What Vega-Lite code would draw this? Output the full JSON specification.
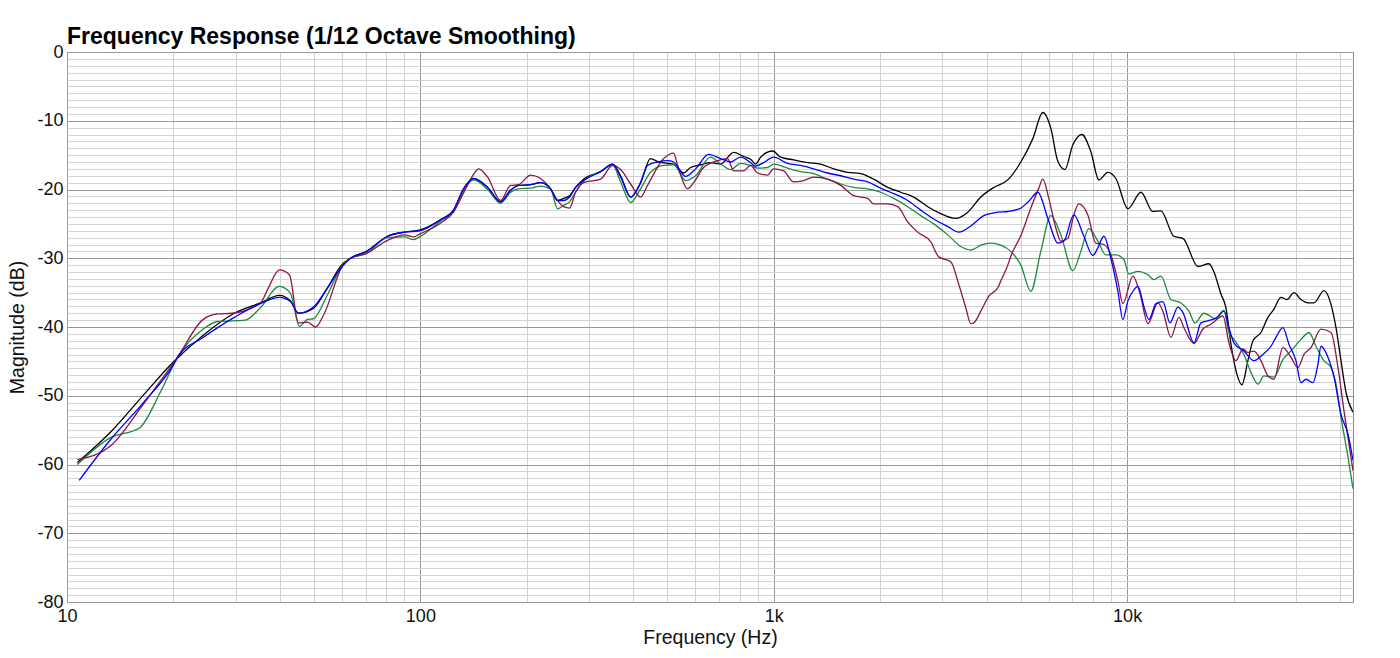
{
  "$schema": "https://vega.github.io/schema/vega-lite/v6.json",
  "autosize": "none",
  "width": 1286,
  "height": 550,
  "padding": {"left": 67, "top": 52, "right": 47, "bottom": 56},
  "background": "#ffffff",
  "title": {"text": "Frequency Response (1/12 Octave Smoothing)", "anchor": "start", "frame": "group", "font": "Liberation Sans", "fontSize": 23, "fontWeight": "bold", "color": "#000000", "offset": -6},
  "config": {
    "view": {"stroke": "#888888", "strokeWidth": 1},
    "font": "Liberation Sans"
  },
  "data": {"values": [
    {"s":"k","f":10.7,"db":-59.7},{"s":"k","f":13.27,"db":-55.3},{"s":"k","f":16.45,"db":-49.9},{"s":"k","f":20.0,"db":-45.1},{"s":"k","f":24.15,"db":-41.3},{"s":"k","f":29.75,"db":-38.0},{"s":"k","f":35.26,"db":-36.5},{"s":"k","f":39.9,"db":-35.4},{"s":"k","f":42.88,"db":-36.2},{"s":"k","f":45.18,"db":-38.0},{"s":"k","f":49.8,"db":-37.3},{"s":"k","f":54.6,"db":-34.3},{"s":"k","f":59.8,"db":-31.0},{"s":"k","f":63.41,"db":-30.0},{"s":"k","f":70.4,"db":-29.0},{"s":"k","f":80.7,"db":-26.8},{"s":"k","f":90.2,"db":-26.2},{"s":"k","f":99.4,"db":-25.9},{"s":"k","f":114.0,"db":-24.4},{"s":"k","f":124.1,"db":-23.0},{"s":"k","f":132.5,"db":-19.9},{"s":"k","f":141.4,"db":-18.4},{"s":"k","f":155,"db":-19.7},{"s":"k","f":168.6,"db":-21.8},{"s":"k","f":180,"db":-20.1},{"s":"k","f":189.6,"db":-19.4},{"s":"k","f":205.1,"db":-19.3},{"s":"k","f":218.9,"db":-19.0},{"s":"k","f":233.6,"db":-19.9},{"s":"k","f":244.6,"db":-21.6},{"s":"k","f":254.3,"db":-21.3},{"s":"k","f":264.4,"db":-20.9},{"s":"k","f":274.9,"db":-19.7},{"s":"k","f":289.7,"db":-18.5},{"s":"k","f":323.6,"db":-17.4},{"s":"k","f":350,"db":-16.3},{"s":"k","f":368.7,"db":-18.0},{"s":"k","f":393.6,"db":-21.1},{"s":"k","f":420,"db":-19.0},{"s":"k","f":448,"db":-15.5},{"s":"k","f":472.4,"db":-16.0},{"s":"k","f":520.8,"db":-16.3},{"s":"k","f":555.7,"db":-17.6},{"s":"k","f":581.7,"db":-16.8},{"s":"k","f":620.9,"db":-16.4},{"s":"k","f":662.6,"db":-16.1},{"s":"k","f":707.3,"db":-16.3},{"s":"k","f":769.9,"db":-14.6},{"s":"k","f":821.7,"db":-15.2},{"s":"k","f":860,"db":-15.6},{"s":"k","f":888.5,"db":-16.3},{"s":"k","f":918,"db":-15.3},{"s":"k","f":992.7,"db":-14.4},{"s":"k","f":1046,"db":-15.3},{"s":"k","f":1138,"db":-15.7},{"s":"k","f":1248,"db":-16.1},{"s":"k","f":1357,"db":-16.3},{"s":"k","f":1478,"db":-17.0},{"s":"k","f":1619,"db":-17.5},{"s":"k","f":1762,"db":-17.7},{"s":"k","f":1918,"db":-18.5},{"s":"k","f":2101,"db":-19.7},{"s":"k","f":2287,"db":-20.4},{"s":"k","f":2489,"db":-21.1},{"s":"k","f":2728,"db":-22.5},{"s":"k","f":2969,"db":-23.5},{"s":"k","f":3274,"db":-24.2},{"s":"k","f":3541,"db":-23.3},{"s":"k","f":3854,"db":-21.1},{"s":"k","f":4195,"db":-19.7},{"s":"k","f":4595,"db":-18.6},{"s":"k","f":5003,"db":-16.0},{"s":"k","f":5410,"db":-12.6},{"s":"k","f":5773,"db":-8.8},{"s":"k","f":6083,"db":-11.1},{"s":"k","f":6367,"db":-15.9},{"s":"k","f":6664,"db":-17.1},{"s":"k","f":7022,"db":-13.5},{"s":"k","f":7445,"db":-12.0},{"s":"k","f":7896,"db":-14.5},{"s":"k","f":8318,"db":-18.6},{"s":"k","f":8819,"db":-17.5},{"s":"k","f":9293,"db":-18.4},{"s":"k","f":10052,"db":-22.8},{"s":"k","f":10940,"db":-20.4},{"s":"k","f":11833,"db":-23.2},{"s":"k","f":12460,"db":-23.1},{"s":"k","f":13562,"db":-26.8},{"s":"k","f":14386,"db":-27.1},{"s":"k","f":15868,"db":-31.2},{"s":"k","f":17047,"db":-30.8},{"s":"k","f":17610,"db":-32.0},{"s":"k","f":18430,"db":-35.2},{"s":"k","f":19040,"db":-37.2},{"s":"k","f":19670,"db":-42.5},{"s":"k","f":20455,"db":-46.9},{"s":"k","f":21127,"db":-48.4},{"s":"k","f":21970,"db":-44.9},{"s":"k","f":22704,"db":-42.0},{"s":"k","f":23910,"db":-40.8},{"s":"k","f":25027,"db":-38.6},{"s":"k","f":26033,"db":-37.4},{"s":"k","f":27240,"db":-35.7},{"s":"k","f":28327,"db":-36.0},{"s":"k","f":29653,"db":-35.0},{"s":"k","f":31040,"db":-36.0},{"s":"k","f":32490,"db":-36.5},{"s":"k","f":33782,"db":-36.5},{"s":"k","f":36057,"db":-34.7},{"s":"k","f":37750,"db":-36.7},{"s":"k","f":39000,"db":-40.1},{"s":"k","f":40290,"db":-44.9},{"s":"k","f":41624,"db":-49.5},{"s":"k","f":43570,"db":-52.4},

    {"s":"g","f":10.7,"db":-60.0},{"s":"g","f":13.27,"db":-56.1},{"s":"g","f":16.03,"db":-54.7},{"s":"g","f":18.37,"db":-49.5},{"s":"g","f":20.66,"db":-44.2},{"s":"g","f":24.15,"db":-40.4},{"s":"g","f":26.64,"db":-39.2},{"s":"g","f":31.97,"db":-39.0},{"s":"g","f":35.26,"db":-37.2},{"s":"g","f":39.9,"db":-34.1},{"s":"g","f":42.88,"db":-35.1},{"s":"g","f":45.48,"db":-39.9},{"s":"g","f":47.92,"db":-38.9},{"s":"g","f":49.8,"db":-38.8},{"s":"g","f":54.6,"db":-35.3},{"s":"g","f":59.8,"db":-31.2},{"s":"g","f":63.41,"db":-30.0},{"s":"g","f":70.4,"db":-29.3},{"s":"g","f":80.7,"db":-27.0},{"s":"g","f":90.2,"db":-26.9},{"s":"g","f":95.6,"db":-27.3},{"s":"g","f":99.4,"db":-26.9},{"s":"g","f":114.0,"db":-24.6},{"s":"g","f":124.1,"db":-23.2},{"s":"g","f":132.5,"db":-20.2},{"s":"g","f":141.4,"db":-18.6},{"s":"g","f":155,"db":-20.0},{"s":"g","f":168.6,"db":-22.0},{"s":"g","f":180,"db":-20.4},{"s":"g","f":189.6,"db":-19.9},{"s":"g","f":205.1,"db":-19.8},{"s":"g","f":218.9,"db":-19.5},{"s":"g","f":233.6,"db":-19.9},{"s":"g","f":244.6,"db":-22.8},{"s":"g","f":254.3,"db":-22.3},{"s":"g","f":264.4,"db":-21.8},{"s":"g","f":274.9,"db":-20.4},{"s":"g","f":289.7,"db":-18.8},{"s":"g","f":323.6,"db":-17.4},{"s":"g","f":350,"db":-16.5},{"s":"g","f":368.7,"db":-18.9},{"s":"g","f":393.6,"db":-21.9},{"s":"g","f":420,"db":-19.9},{"s":"g","f":448,"db":-17.5},{"s":"g","f":488,"db":-16.5},{"s":"g","f":520.8,"db":-16.4},{"s":"g","f":563,"db":-18.7},{"s":"g","f":601,"db":-18.0},{"s":"g","f":662.6,"db":-15.3},{"s":"g","f":707.3,"db":-16.3},{"s":"g","f":755,"db":-17.1},{"s":"g","f":805.8,"db":-16.2},{"s":"g","f":860,"db":-16.5},{"s":"g","f":900,"db":-16.9},{"s":"g","f":961,"db":-16.8},{"s":"g","f":999,"db":-16.3},{"s":"g","f":1094,"db":-16.9},{"s":"g","f":1192,"db":-17.4},{"s":"g","f":1297,"db":-17.7},{"s":"g","f":1420,"db":-18.5},{"s":"g","f":1547,"db":-19.2},{"s":"g","f":1684,"db":-19.7},{"s":"g","f":1844,"db":-19.9},{"s":"g","f":2007,"db":-20.4},{"s":"g","f":2185,"db":-21.3},{"s":"g","f":2394,"db":-22.5},{"s":"g","f":2606,"db":-23.8},{"s":"g","f":2836,"db":-25.0},{"s":"g","f":3108,"db":-26.6},{"s":"g","f":3383,"db":-28.3},{"s":"g","f":3611,"db":-28.8},{"s":"g","f":3854,"db":-28.1},{"s":"g","f":4114,"db":-27.8},{"s":"g","f":4390,"db":-28.1},{"s":"g","f":4687,"db":-29.0},{"s":"g","f":5003,"db":-31.0},{"s":"g","f":5340,"db":-34.8},{"s":"g","f":5698,"db":-29.0},{"s":"g","f":6083,"db":-23.8},{"s":"g","f":6493,"db":-26.6},{"s":"g","f":7022,"db":-31.8},{"s":"g","f":7397,"db":-29.0},{"s":"g","f":7794,"db":-25.7},{"s":"g","f":8263,"db":-27.5},{"s":"g","f":8705,"db":-29.5},{"s":"g","f":9293,"db":-29.5},{"s":"g","f":9789,"db":-30.2},{"s":"g","f":10117,"db":-32.3},{"s":"g","f":10727,"db":-31.9},{"s":"g","f":11451,"db":-32.4},{"s":"g","f":11910,"db":-33.1},{"s":"g","f":12460,"db":-32.6},{"s":"g","f":13300,"db":-36.0},{"s":"g","f":14200,"db":-36.5},{"s":"g","f":14960,"db":-37.7},{"s":"g","f":15560,"db":-39.4},{"s":"g","f":16489,"db":-38.0},{"s":"g","f":17842,"db":-38.8},{"s":"g","f":18793,"db":-37.6},{"s":"g","f":19416,"db":-40.8},{"s":"g","f":20058,"db":-41.8},{"s":"g","f":21404,"db":-44.0},{"s":"g","f":22410,"db":-46.6},{"s":"g","f":23457,"db":-48.3},{"s":"g","f":24381,"db":-47.1},{"s":"g","f":26033,"db":-47.3},{"s":"g","f":27597,"db":-44.7},{"s":"g","f":29080,"db":-43.5},{"s":"g","f":31040,"db":-41.8},{"s":"g","f":32701,"db":-40.8},{"s":"g","f":34227,"db":-42.8},{"s":"g","f":36057,"db":-44.9},{"s":"g","f":37750,"db":-45.9},{"s":"g","f":39000,"db":-48.3},{"s":"g","f":40290,"db":-53.1},{"s":"g","f":42172,"db":-58.9},{"s":"g","f":43570,"db":-63.5},

    {"s":"r","f":10.7,"db":-59.3},{"s":"r","f":13.27,"db":-57.3},{"s":"r","f":16.45,"db":-51.2},{"s":"r","f":20.66,"db":-44.2},{"s":"r","f":24.15,"db":-39.0},{"s":"r","f":26.64,"db":-38.1},{"s":"r","f":29.37,"db":-38.0},{"s":"r","f":35.26,"db":-36.5},{"s":"r","f":37.15,"db":-34.3},{"s":"r","f":39.9,"db":-31.7},{"s":"r","f":42.6,"db":-32.4},{"s":"r","f":45.18,"db":-39.4},{"s":"r","f":47.92,"db":-39.3},{"s":"r","f":50.48,"db":-40.0},{"s":"r","f":53.52,"db":-38.0},{"s":"r","f":59.8,"db":-31.4},{"s":"r","f":63.41,"db":-30.0},{"s":"r","f":70.4,"db":-29.3},{"s":"r","f":80.7,"db":-27.4},{"s":"r","f":90.2,"db":-26.6},{"s":"r","f":95.6,"db":-26.9},{"s":"r","f":99.4,"db":-26.5},{"s":"r","f":114.0,"db":-24.9},{"s":"r","f":124.1,"db":-23.3},{"s":"r","f":132.5,"db":-20.5},{"s":"r","f":141.4,"db":-17.8},{"s":"r","f":146.1,"db":-17.0},{"s":"r","f":155,"db":-18.2},{"s":"r","f":168.6,"db":-21.6},{"s":"r","f":180,"db":-19.4},{"s":"r","f":189.6,"db":-19.3},{"s":"r","f":205.1,"db":-17.9},{"s":"r","f":218.9,"db":-18.4},{"s":"r","f":233.6,"db":-19.9},{"s":"r","f":244.6,"db":-21.6},{"s":"r","f":254.3,"db":-22.5},{"s":"r","f":264.4,"db":-22.7},{"s":"r","f":274.9,"db":-20.4},{"s":"r","f":289.7,"db":-19.0},{"s":"r","f":323.6,"db":-18.5},{"s":"r","f":350,"db":-16.5},{"s":"r","f":368.7,"db":-17.1},{"s":"r","f":393.6,"db":-19.2},{"s":"r","f":420,"db":-21.1},{"s":"r","f":439.3,"db":-19.4},{"s":"r","f":488,"db":-15.5},{"s":"r","f":520.8,"db":-14.7},{"s":"r","f":534.6,"db":-16.5},{"s":"r","f":570.5,"db":-19.9},{"s":"r","f":593.3,"db":-19.0},{"s":"r","f":633.1,"db":-16.8},{"s":"r","f":693.6,"db":-15.8},{"s":"r","f":740.3,"db":-15.5},{"s":"r","f":769.9,"db":-17.3},{"s":"r","f":821.7,"db":-17.3},{"s":"r","f":860,"db":-16.5},{"s":"r","f":900,"db":-17.6},{"s":"r","f":961,"db":-17.9},{"s":"r","f":999,"db":-17.0},{"s":"r","f":1066.6,"db":-17.3},{"s":"r","f":1138,"db":-18.9},{"s":"r","f":1215.5,"db":-18.7},{"s":"r","f":1297,"db":-18.2},{"s":"r","f":1420,"db":-18.5},{"s":"r","f":1547,"db":-19.4},{"s":"r","f":1684,"db":-20.9},{"s":"r","f":1844,"db":-21.3},{"s":"r","f":1918,"db":-22.1},{"s":"r","f":2101,"db":-22.1},{"s":"r","f":2243,"db":-22.5},{"s":"r","f":2394,"db":-24.7},{"s":"r","f":2555,"db":-26.2},{"s":"r","f":2781,"db":-27.6},{"s":"r","f":2931,"db":-29.8},{"s":"r","f":3169,"db":-30.5},{"s":"r","f":3339,"db":-33.8},{"s":"r","f":3495,"db":-37.2},{"s":"r","f":3611,"db":-39.5},{"s":"r","f":3682,"db":-39.4},{"s":"r","f":3854,"db":-37.7},{"s":"r","f":4061,"db":-35.5},{"s":"r","f":4306,"db":-34.3},{"s":"r","f":4390,"db":-33.3},{"s":"r","f":4595,"db":-31.0},{"s":"r","f":4687,"db":-29.7},{"s":"r","f":5003,"db":-26.7},{"s":"r","f":5340,"db":-22.7},{"s":"r","f":5624,"db":-19.8},{"s":"r","f":5773,"db":-18.5},{"s":"r","f":6004,"db":-21.3},{"s":"r","f":6284,"db":-25.6},{"s":"r","f":6493,"db":-27.5},{"s":"r","f":6797,"db":-27.1},{"s":"r","f":7068,"db":-23.7},{"s":"r","f":7301,"db":-22.1},{"s":"r","f":7742,"db":-23.7},{"s":"r","f":8156,"db":-27.8},{"s":"r","f":8592,"db":-28.0},{"s":"r","f":8995,"db":-29.5},{"s":"r","f":9415,"db":-33.3},{"s":"r","f":9726,"db":-36.6},{"s":"r","f":10384,"db":-32.6},{"s":"r","f":10869,"db":-35.1},{"s":"r","f":11451,"db":-39.5},{"s":"r","f":12219,"db":-36.5},{"s":"r","f":12623,"db":-37.7},{"s":"r","f":13300,"db":-41.5},{"s":"r","f":14016,"db":-38.6},{"s":"r","f":14480,"db":-40.1},{"s":"r","f":15459,"db":-42.4},{"s":"r","f":16382,"db":-40.3},{"s":"r","f":17270,"db":-39.6},{"s":"r","f":18671,"db":-38.4},{"s":"r","f":19416,"db":-42.3},{"s":"r","f":20321,"db":-44.9},{"s":"r","f":21265,"db":-43.2},{"s":"r","f":21970,"db":-43.7},{"s":"r","f":22851,"db":-43.5},{"s":"r","f":23910,"db":-44.9},{"s":"r","f":25027,"db":-47.1},{"s":"r","f":26033,"db":-47.6},{"s":"r","f":27597,"db":-43.0},{"s":"r","f":29080,"db":-44.4},{"s":"r","f":30438,"db":-45.9},{"s":"r","f":31652,"db":-44.0},{"s":"r","f":33130,"db":-43.0},{"s":"r","f":35360,"db":-40.3},{"s":"r","f":37750,"db":-40.8},{"s":"r","f":39513,"db":-45.9},{"s":"r","f":41084,"db":-52.2},{"s":"r","f":43570,"db":-60.9},

    {"s":"b","f":10.83,"db":-62.3},{"s":"b","f":13.27,"db":-56.4},{"s":"b","f":16.45,"db":-51.0},{"s":"b","f":20.0,"db":-45.5},{"s":"b","f":20.66,"db":-44.2},{"s":"b","f":24.15,"db":-41.6},{"s":"b","f":29.75,"db":-38.6},{"s":"b","f":35.26,"db":-36.6},{"s":"b","f":39.9,"db":-35.7},{"s":"b","f":42.88,"db":-36.3},{"s":"b","f":45.18,"db":-38.0},{"s":"b","f":49.8,"db":-37.1},{"s":"b","f":54.6,"db":-34.3},{"s":"b","f":59.8,"db":-31.3},{"s":"b","f":63.41,"db":-30.0},{"s":"b","f":70.4,"db":-29.0},{"s":"b","f":80.7,"db":-26.8},{"s":"b","f":90.2,"db":-26.2},{"s":"b","f":99.4,"db":-26.0},{"s":"b","f":114.0,"db":-24.4},{"s":"b","f":124.1,"db":-23.0},{"s":"b","f":132.5,"db":-19.9},{"s":"b","f":141.4,"db":-18.4},{"s":"b","f":155,"db":-19.7},{"s":"b","f":168.6,"db":-21.8},{"s":"b","f":180,"db":-20.1},{"s":"b","f":189.6,"db":-19.4},{"s":"b","f":205.1,"db":-19.3},{"s":"b","f":218.9,"db":-19.0},{"s":"b","f":233.6,"db":-19.9},{"s":"b","f":244.6,"db":-21.6},{"s":"b","f":254.3,"db":-21.6},{"s":"b","f":264.4,"db":-21.1},{"s":"b","f":274.9,"db":-19.7},{"s":"b","f":289.7,"db":-18.7},{"s":"b","f":323.6,"db":-17.4},{"s":"b","f":350,"db":-16.3},{"s":"b","f":368.7,"db":-18.2},{"s":"b","f":393.6,"db":-21.1},{"s":"b","f":420,"db":-19.0},{"s":"b","f":439.3,"db":-16.5},{"s":"b","f":469.3,"db":-16.0},{"s":"b","f":501,"db":-15.8},{"s":"b","f":520.8,"db":-16.0},{"s":"b","f":563,"db":-18.1},{"s":"b","f":601,"db":-17.0},{"s":"b","f":654,"db":-14.9},{"s":"b","f":707.3,"db":-15.5},{"s":"b","f":755,"db":-16.0},{"s":"b","f":805.8,"db":-15.3},{"s":"b","f":860,"db":-16.1},{"s":"b","f":888.5,"db":-16.6},{"s":"b","f":936,"db":-16.1},{"s":"b","f":999,"db":-15.3},{"s":"b","f":1094,"db":-16.2},{"s":"b","f":1192,"db":-16.5},{"s":"b","f":1297,"db":-17.0},{"s":"b","f":1420,"db":-17.6},{"s":"b","f":1547,"db":-18.0},{"s":"b","f":1684,"db":-18.5},{"s":"b","f":1844,"db":-18.9},{"s":"b","f":2007,"db":-19.8},{"s":"b","f":2185,"db":-20.6},{"s":"b","f":2394,"db":-21.6},{"s":"b","f":2606,"db":-23.0},{"s":"b","f":2836,"db":-24.3},{"s":"b","f":3108,"db":-25.4},{"s":"b","f":3339,"db":-26.2},{"s":"b","f":3611,"db":-25.3},{"s":"b","f":3930,"db":-23.8},{"s":"b","f":4306,"db":-23.3},{"s":"b","f":4595,"db":-23.2},{"s":"b","f":5003,"db":-22.7},{"s":"b","f":5271,"db":-21.7},{"s":"b","f":5588,"db":-20.4},{"s":"b","f":5965,"db":-24.2},{"s":"b","f":6367,"db":-27.8},{"s":"b","f":6621,"db":-27.5},{"s":"b","f":7068,"db":-23.7},{"s":"b","f":7543,"db":-26.8},{"s":"b","f":7999,"db":-29.6},{"s":"b","f":8263,"db":-28.5},{"s":"b","f":8592,"db":-26.8},{"s":"b","f":8995,"db":-30.0},{"s":"b","f":9415,"db":-34.8},{"s":"b","f":9726,"db":-38.9},{"s":"b","f":10052,"db":-36.2},{"s":"b","f":10384,"db":-34.8},{"s":"b","f":10727,"db":-34.1},{"s":"b","f":11155,"db":-37.0},{"s":"b","f":11529,"db":-38.9},{"s":"b","f":12067,"db":-36.6},{"s":"b","f":12623,"db":-36.3},{"s":"b","f":13214,"db":-39.4},{"s":"b","f":13926,"db":-37.1},{"s":"b","f":14386,"db":-37.9},{"s":"b","f":15459,"db":-42.3},{"s":"b","f":16170,"db":-39.4},{"s":"b","f":16925,"db":-39.1},{"s":"b","f":17842,"db":-38.7},{"s":"b","f":18793,"db":-37.7},{"s":"b","f":19416,"db":-40.1},{"s":"b","f":20058,"db":-42.3},{"s":"b","f":21404,"db":-43.5},{"s":"b","f":22851,"db":-44.9},{"s":"b","f":24223,"db":-44.0},{"s":"b","f":25530,"db":-42.8},{"s":"b","f":26375,"db":-41.5},{"s":"b","f":27597,"db":-40.1},{"s":"b","f":28697,"db":-42.5},{"s":"b","f":30042,"db":-44.9},{"s":"b","f":31040,"db":-48.1},{"s":"b","f":32067,"db":-47.6},{"s":"b","f":33564,"db":-48.1},{"s":"b","f":34677,"db":-45.4},{"s":"b","f":35360,"db":-42.8},{"s":"b","f":37011,"db":-44.4},{"s":"b","f":38501,"db":-47.3},{"s":"b","f":40290,"db":-52.7},{"s":"b","f":42172,"db":-55.6},{"s":"b","f":43570,"db":-59.4}
  ]},
  "mark": {"type": "line", "strokeWidth": 1.3, "clip": true, "interpolate": "monotone"},
  "encoding": {
    "x": {
      "field": "f", "type": "quantitative",
      "scale": {"type": "log", "domain": [10, 43570], "nice": false},
      "axis": {
        "title": "Frequency (Hz)",
        "values": [10,20,30,40,50,60,70,80,90,100,200,300,400,500,600,700,800,900,1000,2000,3000,4000,5000,6000,7000,8000,9000,10000,20000,30000,40000],
        "labelExpr": "datum.value == 10 ? '10' : datum.value == 100 ? '100' : datum.value == 1000 ? '1k' : datum.value == 10000 ? '10k' : ''",
        "labelOverlap": false,
        "labelBound": false,
        "labelFlush": false,
        "grid": true,
        "gridColor": {"condition": {"test": "indexof([10,100,1000,10000], datum.value) >= 0", "value": "#999999"}, "value": "#d4d4d4"},
        "gridWidth": 1,
        "ticks": false,
        "domain": false,
        "labelPadding": 5,
        "labelFontSize": 18,
        "labelFont": "Liberation Sans",
        "labelColor": "#111111",
        "titleFont": "Liberation Sans",
        "titleFontSize": 19.5,
        "titleFontWeight": "normal",
        "titleColor": "#111111",
        "titlePadding": 3
      }
    },
    "y": {
      "field": "db", "type": "quantitative",
      "scale": {"domain": [-80, 0], "nice": false, "zero": false},
      "axis": {
        "title": "Magnitude (dB)",
        "values": [-80,-79,-78,-77,-76,-75,-74,-73,-72,-71,-70,-69,-68,-67,-66,-65,-64,-63,-62,-61,-60,-59,-58,-57,-56,-55,-54,-53,-52,-51,-50,-49,-48,-47,-46,-45,-44,-43,-42,-41,-40,-39,-38,-37,-36,-35,-34,-33,-32,-31,-30,-29,-28,-27,-26,-25,-24,-23,-22,-21,-20,-19,-18,-17,-16,-15,-14,-13,-12,-11,-10,-9,-8,-7,-6,-5,-4,-3,-2,-1,0],
        "labelExpr": "datum.value % 10 === 0 ? '' + datum.value : ''",
        "labelOverlap": false,
        "labelBound": false,
        "labelFlush": false,
        "grid": true,
        "gridColor": {"condition": {"test": "datum.value % 10 === 0", "value": "#999999"}, "value": "#d4d4d4"},
        "gridWidth": 1,
        "ticks": false,
        "domain": false,
        "labelPadding": 4,
        "labelFontSize": 18,
        "labelFont": "Liberation Sans",
        "labelColor": "#111111",
        "titleFont": "Liberation Sans",
        "titleFontSize": 19.5,
        "titleFontWeight": "normal",
        "titleColor": "#111111",
        "titlePadding": 9
      }
    },
    "color": {
      "field": "s", "type": "nominal",
      "scale": {"domain": ["k", "g", "r", "b"], "range": ["#000000", "#1b8a3e", "#8c1548", "#0000ff"]},
      "legend": null
    }
  }
}
